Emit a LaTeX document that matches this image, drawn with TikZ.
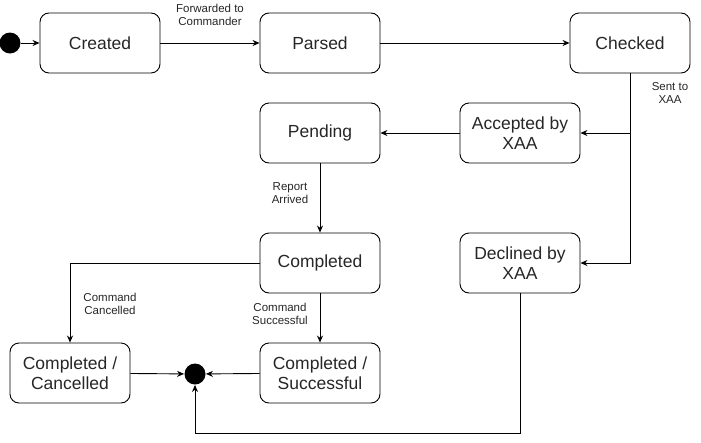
\documentclass[tikz,border=0pt]{standalone}
\usepackage{fontspec}
\setmainfont{Liberation Sans}
\usetikzlibrary{
  arrows.meta,
  chains,
  scopes
}

\begin{document}
\begin{tikzpicture}[x=1pt,y=-1pt,
      state/.style={
         rectangle,
         rounded corners=9pt,
         minimum width=120pt,
         minimum height=60pt,
         inner sep=0pt,
         draw=black,
         align=center,
         text=black!85,
         font=\fontsize{17.5}{20.5}\selectfont
      },
      dot/.style={
         circle,
         fill=black,
         inner sep=0pt,
         minimum size=21pt
      },
      guard/.style={
         align=center,
         text=black!85,
         font=\fontsize{11.5}{13.5}\selectfont
      },
      point/.style={coordinate},
      >={Stealth[length=7pt,width=6pt]},line width=0.9pt,
      tip/.style={->},every join/.style={},
      hv path/.style={to path={-| (\tikztotarget)}},
      vh path/.style={to path={|- (\tikztotarget)}}
    ]
    \useasboundingbox (0,0) rectangle (701,442);
    % states
    \node (init)       [dot]   at (10,43)   {};
    \node (created)    [state] at (100,43)  {Created};
    \node (parsed)     [state] at (320,43)  {Parsed};
    \node (checked)    [state] at (630,43)  {Checked};
    \node (accepted)   [state] at (520,133) {Accepted by\\XAA};
    \node (pending)    [state] at (320,133) {Pending};
    \node (completed)  [state] at (320,263) {Completed};
    \node (declined)   [state] at (520,263) {Declined by\\XAA};
    \node (cancelled)  [state] at (70,373)  {Completed /\\Cancelled};
    \node (successful) [state] at (320,373) {Completed /\\Successful};
    \node (final)      [dot]   at (195,374) {};
    \coordinate (n1) at (520,433);
    % guards
    \node (g1) [guard] at (210,15)  {Forwarded to\\Commander};
    \node (g2) [guard] at (670,93)  {Sent to\\XAA};
    \node (g3) [guard] at (290,193) {Report\\Arrived};
    \node (g4) [guard] at (110,304) {Command\\Cancelled};
    \node (g5) [guard] at (280,314) {Command\\Successful};
  { [start chain]
       \chainin (init);
       \chainin (created)  [join=by tip];
       \chainin (parsed)   [join=by tip];
       \chainin (checked)  [join=by tip];
  }
  { [start chain]
       \chainin (accepted);
       \chainin (pending)    [join=by tip];
       \chainin (completed)  [join=by tip];
       \chainin (successful) [join=by tip];
       \chainin (final)      [join=by tip];
  }
    \draw [->] (checked) |- (accepted);
    \draw [->] (checked) |- (declined);
    \draw [->] (completed) -| (cancelled);
    \draw [->] (cancelled) -- (final);
    \draw [->] (declined) -- (n1) -| (final);
\end{tikzpicture}
\end{document}
